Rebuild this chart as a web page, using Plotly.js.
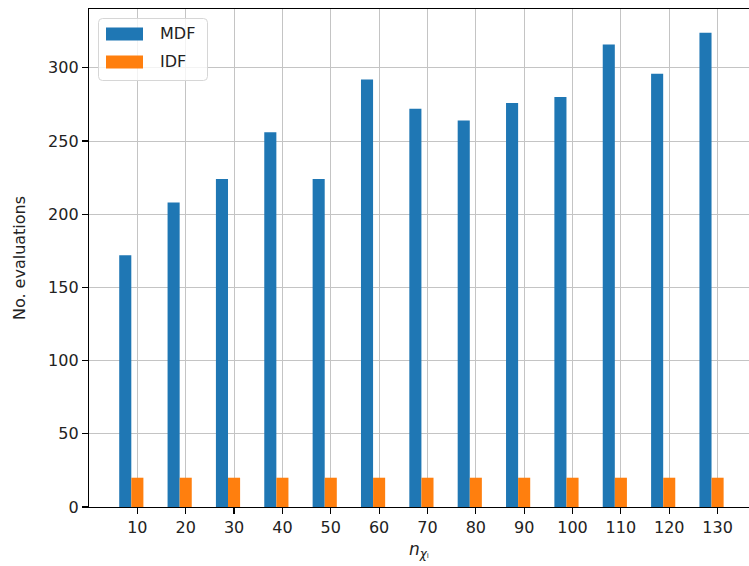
<!DOCTYPE html>
<html>
<head>
<meta charset="utf-8">
<script src="https://cdn.plot.ly/plotly-3.0.1.min.js"></script>
<style>
  html, body { margin: 0; padding: 0; background: #fff; }
  #chart { width: 749px; height: 566px; }
</style>
</head>
<body>
<div id="chart"></div>
<script>
// Number of evaluations per problem size
const categories = ['10', '20', '30', '40', '50', '60', '70', '80', '90', '100', '110', '120', '130'];
const mdfValues = [172, 208, 224, 256, 224, 292, 272, 264, 276, 280, 316, 296, 324];
const idfValues = [20, 20, 20, 20, 20, 20, 20, 20, 20, 20, 20, 20, 20];
const seriesNames = ['MDF', 'IDF'];
const seriesColors = ['#1f77b4', '#ff7f0e'];

const W = 749, H = 566;
const M = { l: 89, r: 0, t: 9, b: 59 };
const plotW = W - M.l - M.r;
const plotH = H - M.t - M.b;
// pixel -> paper helpers for the hand-drawn legend box
const px = x => (x - M.l) / plotW;
const py = y => (H - M.b - y) / plotH;

const barWidth = 0.25;
const traces = [
  {
    type: 'bar', name: seriesNames[0], x: categories, y: mdfValues,
    width: barWidth, offset: -1.5 * barWidth,
    marker: { color: seriesColors[0], line: { width: 0 } },
    hoverinfo: 'x+y+name'
  },
  {
    type: 'bar', name: seriesNames[1], x: categories, y: idfValues,
    width: barWidth, offset: -0.5 * barWidth,
    marker: { color: seriesColors[1], line: { width: 0 } },
    hoverinfo: 'x+y+name'
  }
];

// rounded legend frame
function roundRect(x0, y0, x1, y1, r) {
  const X0 = px(x0), X1 = px(x1), Y0 = py(y0), Y1 = py(y1);
  const rx = r / plotW, ry = r / plotH;
  return `M ${X0 + rx},${Y0} L ${X1 - rx},${Y0} Q ${X1},${Y0} ${X1},${Y0 - ry} ` +
         `L ${X1},${Y1 + ry} Q ${X1},${Y1} ${X1 - rx},${Y1} L ${X0 + rx},${Y1} ` +
         `Q ${X0},${Y1} ${X0},${Y1 + ry} L ${X0},${Y0 - ry} Q ${X0},${Y0} ${X0 + rx},${Y0} Z`;
}

const legendRows = [34, 62];
const shapes = [
  {
    type: 'path', xref: 'paper', yref: 'paper',
    path: roundRect(98.5, 18.5, 207.5, 80.5, 4),
    fillcolor: 'rgba(255,255,255,0.8)',
    line: { color: '#d6d6d6', width: 1 }
  }
];
const annotations = [];
seriesNames.forEach((name, i) => {
  const cy = legendRows[i];
  shapes.push({
    type: 'rect', xref: 'paper', yref: 'paper',
    x0: px(106), x1: px(143), y0: py(cy + 6.5), y1: py(cy - 6.5),
    fillcolor: seriesColors[i], line: { width: 0 }
  });
  annotations.push({
    xref: 'paper', yref: 'paper', x: px(158), y: py(cy),
    xanchor: 'left', yanchor: 'middle', showarrow: false,
    text: name, font: { family: 'DejaVu Sans', size: 16, color: '#222' }
  });
});

const layout = {
  width: W, height: H,
  margin: M,
  paper_bgcolor: '#fff', plot_bgcolor: '#fff',
  barmode: 'overlay',
  showlegend: false,
  font: { family: 'DejaVu Sans', size: 16, color: '#222' },
  xaxis: {
    type: 'category',
    range: [-1.0, 12.65],
    showgrid: true, gridcolor: '#c4c4c4', gridwidth: 1,
    showline: true, linecolor: '#000', linewidth: 1.2, mirror: true,
    ticks: 'outside', ticklen: 6, tickwidth: 1.2, tickcolor: '#000',
    zeroline: false,
    title: { text: '<i>n</i><sub><i>χ</i>ᵢ</sub>', standoff: 6, font: { size: 17 } }
  },
  yaxis: {
    range: [0, 340.2],
    tickvals: [0, 50, 100, 150, 200, 250, 300],
    showgrid: true, gridcolor: '#c4c4c4', gridwidth: 1,
    showline: true, linecolor: '#000', linewidth: 1.2, mirror: true,
    ticks: 'outside', ticklen: 6, tickwidth: 1.2, tickcolor: '#000',
    zeroline: false,
    title: { text: 'No. evaluations', standoff: 18, font: { size: 16 } }
  },
  shapes: shapes,
  annotations: annotations
};

Plotly.newPlot('chart', traces, layout, { displayModeBar: false, staticPlot: true });
</script>
</body>
</html>
